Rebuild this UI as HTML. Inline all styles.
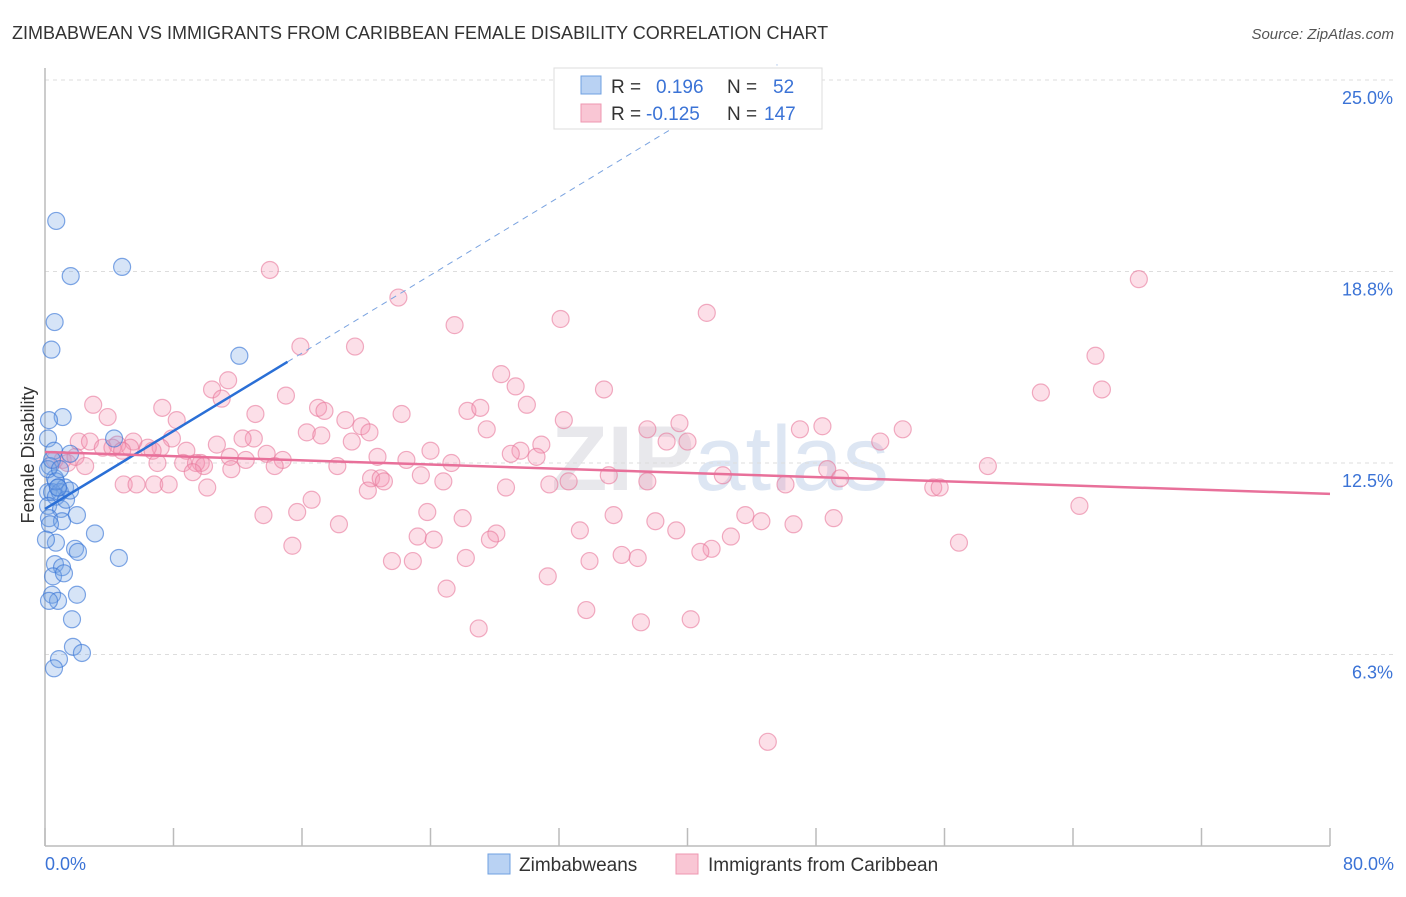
<!DOCTYPE html>
<html><head><meta charset="utf-8"><style>
body{margin:0;background:#fff;font-family:"Liberation Sans",sans-serif;}
svg text{font-family:"Liberation Sans",sans-serif;}
</style></head><body>
<svg id="chart" width="1406" height="892" xmlns="http://www.w3.org/2000/svg">
<text x="12" y="39" font-size="18" fill="#333">ZIMBABWEAN VS IMMIGRANTS FROM CARIBBEAN FEMALE DISABILITY CORRELATION CHART</text>
<text x="1394" y="39" font-size="15" fill="#555" font-style="italic" text-anchor="end">Source: ZipAtlas.com</text>
<text x="720" y="490" font-size="92" fill="#e8e8ec" text-anchor="middle" font-weight="bold">ZIP<tspan fill="#dde6f3" font-weight="normal">atlas</tspan></text>
<g id="grid"></g>
<g id="axes"></g>
<g id="pink"></g>
<g id="blue"></g>
<g id="trends"></g>
<text transform="translate(34,455) rotate(-90)" font-size="18" fill="#333" text-anchor="middle">Female Disability</text>
<g>
<rect x="554" y="68" width="268" height="61" fill="#fff" stroke="#ddd"/>
<rect x="581" y="76" width="20" height="18" fill="#b9d2f3" stroke="#6fa0e0"/>
<rect x="581" y="104" width="20" height="18" fill="#f9c6d4" stroke="#ee97b0"/>
<text x="611" y="93" font-size="19" fill="#333">R = <tspan fill="#3b73d6" x="656">0.196</tspan><tspan x="727" fill="#333">N = </tspan><tspan x="773" fill="#3b73d6">52</tspan></text>
<text x="611" y="120" font-size="19" fill="#333">R = <tspan fill="#3b73d6" x="646">-0.125</tspan><tspan x="727" fill="#333">N = </tspan><tspan x="764" fill="#3b73d6">147</tspan></text>
</g>
<g>
<rect x="488" y="854" width="22" height="20" fill="#b9d2f3" stroke="#6fa0e0"/>
<text x="519" y="871" font-size="19" fill="#333">Zimbabweans</text>
<rect x="676" y="854" width="22" height="20" fill="#f9c6d4" stroke="#ee97b0"/>
<text x="708" y="871" font-size="19" fill="#333">Immigrants from Caribbean</text>
</g>
</svg>
<script>
const yTicks=[25,18.75,12.5,6.25];
const yTickLabels=["25.0%","18.8%","12.5%","6.3%"];
const xTicks=[0,8,16,24,32,40,48,56,64,72,80];
const blueX=[0.7,1.6,4.8,0.6,0.4,12.1,1.1,0.25,0.19,4.3,0.56,1.56,0.31,0.62,0.81,1.25,0.19,0.44,0.93,0.68,0.19,1.0,1.99,0.25,1.06,3.11,0.68,1.87,2.05,4.6,0.62,1.06,0.5,1.18,0.44,0.81,1.99,1.68,1.74,2.3,0.87,0.56,0.19,0.44,0.68,1.31,0.31,0.93,1.56,0.06,0.25,0.81];
const blueY=[20.4,18.6,18.9,17.1,16.2,16.0,14.0,13.9,13.3,13.3,12.9,12.8,12.4,12.0,11.7,11.7,11.55,11.55,11.55,11.4,11.1,11.0,10.8,10.7,10.6,10.2,9.9,9.7,9.6,9.4,9.2,9.1,8.8,8.9,8.2,8.0,8.2,7.4,6.5,6.3,6.1,5.8,12.3,12.6,11.9,11.3,10.5,12.3,11.6,10.0,8.0,11.7];
const pinkX=[14.0,68.1,22.0,32.1,41.2,25.5,15.9,19.3,65.4,28.4,11.4,10.4,29.3,34.8,62.0,65.8,15.0,11.0,3.0,30.0,7.3,17.0,26.3,27.1,17.4,22.2,3.9,8.2,13.1,18.7,32.3,39.5,48.4,19.7,27.5,47.0,37.5,53.4,16.3,17.2,13.0,7.9,12.3,40.0,38.7,52.0,2.1,2.8,5.5,4.5,7.2,10.7,19.1,30.9,3.6,4.2,5.3,6.4,24.0,29.6,29.0,4.8,6.7,8.8,13.8,20.7,22.5,30.6,12.5,11.5,14.8,1.1,0.6,1.4,7.0,8.6,9.7,25.3,9.4,9.9,58.7,14.3,18.2,48.7,11.6,9.2,23.4,20.3,20.9,21.1,24.8,35.1,37.5,42.2,49.5,4.9,5.7,6.8,7.7,32.6,28.7,31.4,46.1,55.3,55.7,10.1,20.1,16.6,64.4,13.6,15.7,23.8,26.0,35.4,43.6,44.6,49.1,38.0,18.3,33.3,39.3,23.2,28.1,24.2,27.7,42.7,15.4,56.9,41.5,40.8,35.9,36.9,26.2,21.6,22.9,33.9,31.3,25.0,33.7,37.1,40.2,27.0,45.0,46.6,20.2,1.9,2.5];
const pinkY=[18.8,18.5,17.9,17.2,17.4,17.0,16.3,16.3,16.0,15.4,15.2,14.9,15.0,14.9,14.8,14.9,14.7,14.6,14.4,14.4,14.3,14.3,14.2,14.3,14.2,14.1,14.0,13.9,14.1,13.9,13.9,13.8,13.7,13.7,13.6,13.6,13.6,13.6,13.5,13.4,13.3,13.3,13.3,13.2,13.2,13.2,13.2,13.2,13.2,13.1,13.0,13.1,13.2,13.1,13.0,13.0,13.0,13.0,12.9,12.9,12.8,12.9,12.9,12.9,12.8,12.7,12.6,12.7,12.6,12.7,12.6,12.6,12.6,12.5,12.5,12.5,12.5,12.5,12.5,12.4,12.4,12.4,12.4,12.3,12.3,12.2,12.1,12.0,12.0,11.9,11.9,12.1,11.9,12.1,12.0,11.8,11.8,11.8,11.8,11.9,11.7,11.8,11.8,11.7,11.7,11.7,11.6,11.3,11.1,10.8,10.9,10.9,10.7,10.8,10.8,10.6,10.7,10.6,10.5,10.3,10.3,10.1,10.2,10.0,10.0,10.1,9.8,9.9,9.7,9.6,9.5,9.4,9.4,9.3,9.3,9.3,8.8,8.4,7.7,7.3,7.4,7.1,3.4,10.5,13.5,12.7,12.4];
const blueTrend=[11.0,0.318]; // intercept, slope
const pinkTrend=[12.86,-0.0171];
const X0=45,X1=1330,Y0=846,Y25=80;
const sx=v=>X0+(v/80)*(X1-X0);
const sy=v=>Y0-(v/25)*(Y0-Y25);
const NS="http://www.w3.org/2000/svg";
function mk(tag,attrs,parent){const e=document.createElementNS(NS,tag);for(const k in attrs)e.setAttribute(k,attrs[k]);document.getElementById(parent).appendChild(e);return e;}
yTicks.forEach((t,i)=>{
 const g=mk('line',{x1:X0,x2:1394,y1:sy(t),y2:sy(t),stroke:'#ddd','stroke-dasharray':'4,4'},'grid');
 
 
 const l=mk('text',{x:1393,y:sy(t)+24,'font-size':18,fill:'#3b73d6','text-anchor':'end'},'grid');
 l.textContent=yTickLabels[i];
 
 
});
const ax=mk('line',{x1:X0,x2:X0,y1:68,y2:Y0,stroke:'#bbb','stroke-width':1.5},'axes');


const bx=mk('line',{x1:X0,x2:X1,y1:Y0,y2:Y0,stroke:'#bbb','stroke-width':1.5},'axes');


xTicks.forEach(t=>{const e=mk('line',{x1:sx(t),x2:sx(t),y1:828,y2:Y0,stroke:'#bbb','stroke-width':1.5},'axes');
 
 });
const xl0=mk('text',{x:45,y:870,'font-size':18,fill:'#3b73d6'},'axes');xl0.textContent='0.0%';


const xl1=mk('text',{x:1394,y:870,'font-size':18,fill:'#3b73d6','text-anchor':'end'},'axes');xl1.textContent='80.0%';


pinkX.forEach((x,i)=>{const c=mk('circle',{cx:sx(x),cy:sy(pinkY[i]),r:8.5,fill:'rgba(244,150,180,0.3)',stroke:'rgba(232,120,155,0.6)','stroke-width':1.2},'pink');
 
 });
blueX.forEach((x,i)=>{const c=mk('circle',{cx:sx(x),cy:sy(blueY[i]),r:8.5,fill:'rgba(120,165,230,0.3)',stroke:'rgba(60,120,215,0.65)','stroke-width':1.2},'blue');
 
 });
const bEnd=15.1;
const bl=mk('line',{x1:sx(0),y1:sy(blueTrend[0]),x2:sx(bEnd),y2:sy(blueTrend[0]+blueTrend[1]*bEnd),stroke:'#2a6fd6','stroke-width':2.5},'trends');


const dEnd=(25.5-blueTrend[0])/blueTrend[1];
const bd=mk('line',{x1:sx(bEnd),y1:sy(blueTrend[0]+blueTrend[1]*bEnd),x2:sx(dEnd),y2:sy(25.5),stroke:'#7aa3e0','stroke-width':1,'stroke-dasharray':'6,5'},'trends');


const pl=mk('line',{x1:sx(0),y1:sy(pinkTrend[0]),x2:sx(80),y2:sy(pinkTrend[0]+pinkTrend[1]*80),stroke:'#e8709a','stroke-width':2.5},'trends');


</script>
</body></html>
